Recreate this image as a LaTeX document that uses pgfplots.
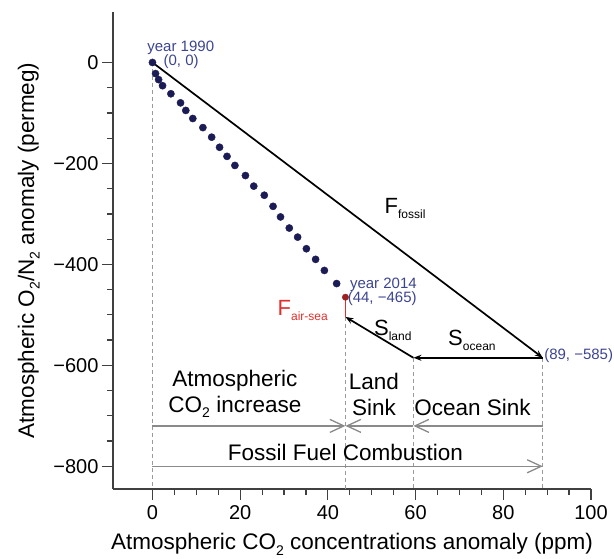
\documentclass[border=0pt]{standalone}
\usepackage{fontspec}
\setmainfont{Liberation Sans}
\usepackage{pgfplots}
\pgfplotsset{compat=1.18}
\usetikzlibrary{arrows.meta}

\definecolor{dotblue}{HTML}{1B1B55}
\definecolor{lblblue}{HTML}{3C4490}
\definecolor{fluxred}{HTML}{E0302C}
\definecolor{guide}{HTML}{9A9A9A}
\definecolor{budget}{HTML}{8A8A8A}

% small lowered subscript for flux names
\newcommand\sub[2][12]{\raisebox{-0.45ex}{\fontsize{#1}{#1}\selectfont #2}}

\begin{document}
\begin{tikzpicture}
\path[use as bounding box] (0,0) rectangle (614pt,558pt);
\begin{axis}[
  at={(113pt,69pt)}, anchor=south west,
  scale only axis, width=478pt, height=477pt,
  xmin=-9, xmax=100, ymin=-845, ymax=100,
  axis x line=bottom, axis y line=left,
  axis line style={-, line width=1.6pt, black!75},
  xtick={0,20,...,100}, minor x tick num=3,
  ytick={-800,-600,-400,-200,0},
  yticklabels={−800,−600,−400,−200,0},
  minor y tick num=3,
  tick align=outside, major tick length=11pt, minor tick length=6pt,
  tick style={line width=1.2pt, black!75},
  /pgf/number format/assume math mode=true,
  tick label style={font=\fontsize{20}{24}\selectfont},
  xticklabel style={yshift=-2pt},
  label style={font=\fontsize{22.5}{27}\selectfont},
  xlabel={Atmospheric CO\sub[14]{2} concentrations anomaly (ppm)},
  ylabel={Atmospheric O\sub[14]{2}/N\sub[14]{2} anomaly (permeg)},
  xlabel style={yshift=-7pt},
  ylabel style={yshift=7pt},
  clip=false,
]
% guide lines down to the axis
\addplot[guide, line width=1pt, dash pattern=on 4pt off 3pt] coordinates {(0,0) (0,-845)};
\addplot[guide, line width=1pt, dash pattern=on 4pt off 3pt] coordinates {(44,-504) (44,-845)};
\addplot[guide, line width=1pt, dash pattern=on 4pt off 3pt] coordinates {(59.5,-585) (59.5,-845)};
\addplot[guide, line width=1pt, dash pattern=on 4pt off 3pt] coordinates {(89,-585) (89,-845)};

% budget partition arrows
\addplot[budget, line width=1.3pt, -{Straight Barb[length=14pt,width=13pt]}] coordinates {(0,-720) (44,-720)};
\addplot[budget, line width=1.3pt, -{Straight Barb[length=14pt,width=13pt]}] coordinates {(59.5,-720) (44,-720)};
\addplot[budget, line width=1.3pt, -{Straight Barb[length=14pt,width=13pt]}] coordinates {(89,-720) (59.5,-720)};
\addplot[budget, line width=1.3pt, -{Straight Barb[length=14pt,width=13pt]}] coordinates {(0,-800) (89,-800)};

% flux vectors
\addplot[black, line width=1.7pt, -{Stealth[length=8pt,width=6pt]}] coordinates {(0,0) (89,-585)};
\addplot[black, line width=1.7pt, -{Stealth[length=8pt,width=6pt]}] coordinates {(89,-585) (59.5,-585)};
\addplot[black, line width=1.7pt, -{Stealth[length=8pt,width=6pt]}] coordinates {(59.5,-585) (44,-504)};
\addplot[fluxred, line width=1.7pt] coordinates {(44,-504) (44,-465)};

% yearly observations 1990-2014
\addplot[only marks, mark=*, mark size=3.6pt, dotblue] coordinates {
(0,0) (0.7,-22) (1.4,-34) (2.3,-46) (4.2,-62) (6.4,-80) (7.6,-95)
(9.2,-111) (11.5,-129) (13.5,-148) (15.3,-168) (17.0,-186) (18.8,-204)
(21.2,-224) (23.1,-245) (25.5,-263) (27.5,-285) (29.2,-306) (31.2,-328)
(33.1,-346) (35.1,-369) (37.2,-390) (39.2,-412) (42.0,-438)};
\addplot[only marks, mark=*, mark size=3.2pt, fluxred!70!black] coordinates {(44,-465)};

% point annotations
\node[anchor=west, lblblue, font=\fontsize{15}{15}\selectfont, inner sep=0pt] at (axis cs:-1.2,30) {year 1990};
\node[anchor=west, lblblue, font=\fontsize{15}{15}\selectfont, inner sep=0pt] at (axis cs:2.5,2) {(0, 0)};
\node[anchor=west, lblblue, font=\fontsize{15}{15}\selectfont, inner sep=0pt] at (axis cs:45,-440) {year 2014};
\node[anchor=west, lblblue, font=\fontsize{15}{15}\selectfont, inner sep=0pt] at (axis cs:44.5,-467) {(44, −465)};
\node[anchor=west, lblblue, font=\fontsize{15}{15}\selectfont, inner sep=0pt] at (axis cs:89.3,-580) {(89, −585)};

% flux names
\node[anchor=west, inner sep=0pt, font=\fontsize{22}{22}\selectfont] at (axis cs:52.9,-289) {F\sub{fossil}};
\node[anchor=west, inner sep=0pt, font=\fontsize{22}{22}\selectfont] at (axis cs:50.5,-530) {S\sub{land}};
\node[anchor=west, inner sep=0pt, font=\fontsize{22}{22}\selectfont] at (axis cs:67.4,-550) {S\sub{ocean}};
\node[anchor=west, inner sep=0pt, fluxred, font=\fontsize{22}{22}\selectfont] at (axis cs:28.5,-491) {F\sub{air-sea}};

% budget terms
\node[align=center, inner sep=0pt, font=\fontsize{22.5}{26}\selectfont] at (axis cs:18.8,-657) {Atmospheric\\CO\sub[14]{2} increase};
\node[align=center, inner sep=0pt, font=\fontsize{22.5}{26}\selectfont] at (axis cs:50.5,-657) {Land\\Sink};
\node[inner sep=0pt, font=\fontsize{22.5}{26}\selectfont] at (axis cs:73,-683) {Ocean Sink};
\node[inner sep=0pt, font=\fontsize{22.5}{26}\selectfont] at (axis cs:44,-772) {Fossil Fuel Combustion};
\end{axis}
\end{tikzpicture}
\end{document}
